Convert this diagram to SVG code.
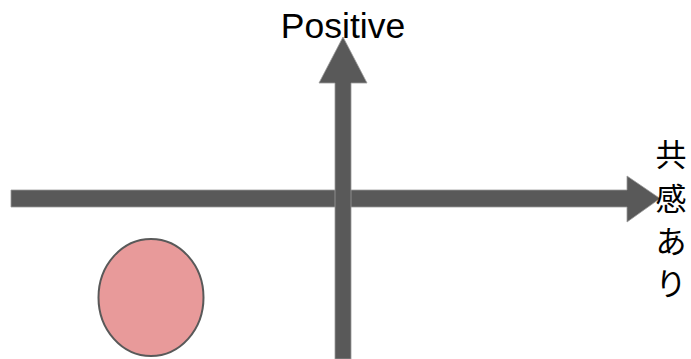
<svg xmlns="http://www.w3.org/2000/svg" width="691" height="359" viewBox="0 0 691 359">
  <style>
    .arrow { fill: #595959; stroke: #9a9a9a; stroke-width: 0.8; }
    .lbl { font-family: "Liberation Sans", Arial, sans-serif; fill: #000000; }
    .jp { font-family: "Liberation Sans", "Noto Sans CJK JP", sans-serif; font-size: 31px; fill: #000000; text-anchor: middle; }
    .dot { fill: #e89a9a; stroke: #595959; stroke-width: 2; }
  </style>
  <rect width="691" height="359" fill="#ffffff"/>
  <g id="connectors">
    <polygon id="x-axis" class="arrow" points="11,190 627,190 627,176 660,198.5 627,222 627,207 11,207"/>
    <polygon id="y-axis" class="arrow" points="335,359 335,83 319,83 343,37 367,83 351,83 351,359"/>
  </g>
  <g id="label-positive">
    <text class="lbl" x="343" y="37.5" font-size="35.5" text-anchor="middle">Positive</text>
  </g>
  <g id="label-empathy">
    <text class="jp" x="671" y="166">共</text>
    <text class="jp" x="671" y="210">感</text>
    <text class="jp" x="671" y="253">あ</text>
    <text class="jp" x="671" y="295">り</text>
  </g>
  <g id="circle-node">
    <ellipse class="dot" cx="151" cy="297.5" rx="52.5" ry="58.5"/>
  </g>
</svg>
